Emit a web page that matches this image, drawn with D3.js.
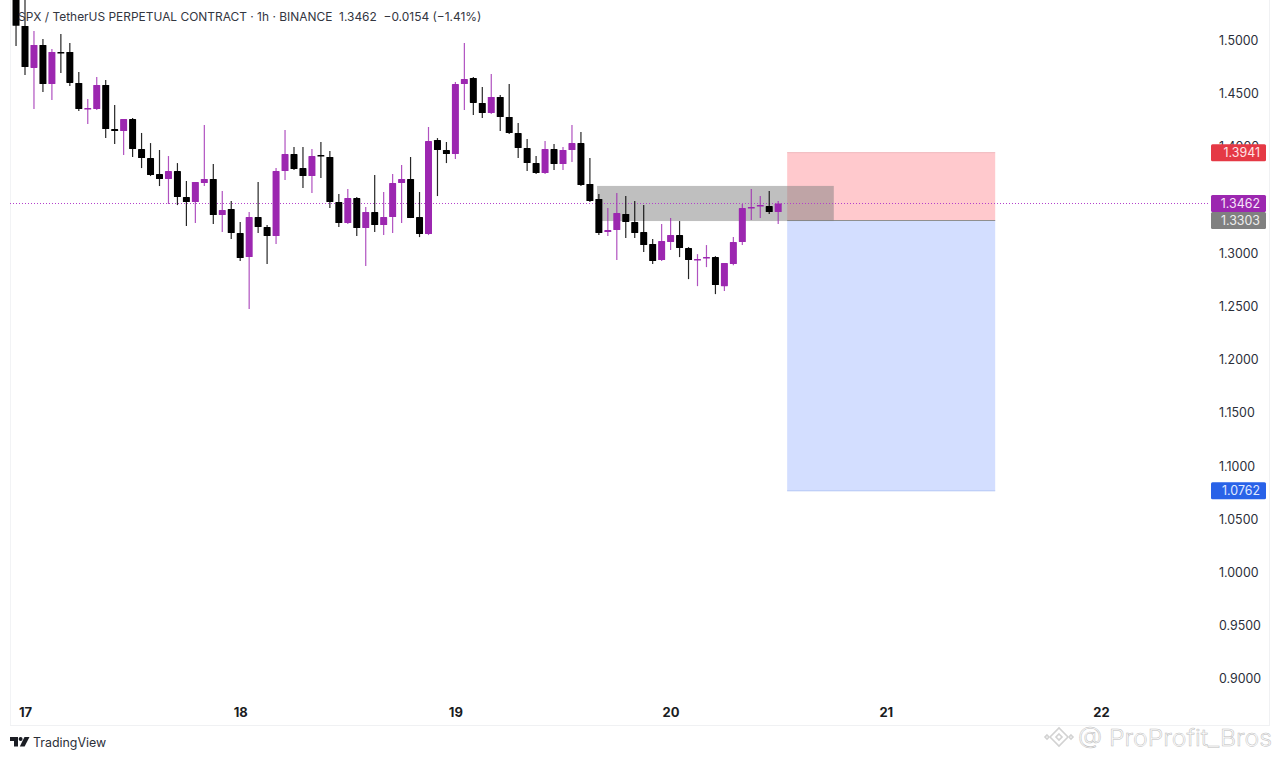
<!DOCTYPE html>
<html><head><meta charset="utf-8">
<script src="https://cdn.jsdelivr.net/npm/d3@7/dist/d3.min.js"></script>
<style>
html,body{margin:0;padding:0;background:#fff;overflow:hidden}
svg{display:block;font-family:Inter,"Liberation Sans",sans-serif}
</style></head><body><svg id="c" width="1280" height="761"></svg>
<script>
// Hour offsets from the "17" day label, one per candle
const hours = d3.range(-1, 85);
const opens = [1.5433,1.5132,1.4737,1.4953,1.4586,1.4887,1.4887,1.4596,1.4346,1.4351,1.4577,1.4163,1.4144,1.4257,1.3975,1.3890,1.3740,1.3693,1.3768,1.3523,1.3476,1.3655,1.3693,1.3354,1.3410,1.3185,1.2959,1.3335,1.3241,1.3157,1.3768,1.3928,1.3796,1.3721,1.3918,1.3900,1.3476,1.3279,1.3514,1.3232,1.3382,1.3260,1.3335,1.3655,1.3693,1.3335,1.3176,1.4060,1.3966,1.3928,1.4586,1.4643,1.4408,1.4313,1.4464,1.4276,1.4125,1.3984,1.3843,1.3749,1.3975,1.3834,1.3966,1.4031,1.3646,1.3505,1.3194,1.3213,1.3364,1.3288,1.3194,1.3082,1.2931,1.3100,1.3166,1.3044,1.2931,1.2950,1.2959,1.2686,1.2893,1.3100,1.3420,1.3439,1.3439,1.3382];
const highs = [1.5451,1.5404,1.5085,1.5009,1.4915,1.5056,1.4972,1.4699,1.4445,1.4652,1.4624,1.4389,1.4257,1.4266,1.4126,1.4031,1.3966,1.3909,1.3843,1.3674,1.3665,1.4201,1.3834,1.3580,1.3486,1.3288,1.3382,1.3665,1.3260,1.3796,1.4154,1.3994,1.3994,1.3975,1.4041,1.3956,1.3552,1.3599,1.3523,1.3429,1.3730,1.3571,1.3740,1.3824,1.3900,1.3571,1.4182,1.4078,1.4041,1.4605,1.4972,1.4652,1.4558,1.4680,1.4483,1.4586,1.4219,1.4069,1.3909,1.4050,1.4022,1.3994,1.4201,1.4135,1.3890,1.3552,1.3420,1.3561,1.3533,1.3486,1.3448,1.3129,1.3270,1.3326,1.3298,1.3053,1.2987,1.3072,1.2968,1.2903,1.3147,1.3458,1.3599,1.3533,1.3580,1.3486];
const lows = [1.4943,1.4671,1.4351,1.4511,1.4436,1.4690,1.4567,1.4332,1.4210,1.4342,1.4078,1.4022,1.3919,1.3900,1.3796,1.3721,1.3627,1.3458,1.3448,1.3251,1.3279,1.3627,1.3270,1.3194,1.3129,1.2922,1.2470,1.3185,1.2893,1.3082,1.3683,1.3778,1.3608,1.3561,1.3702,1.3420,1.3241,1.3270,1.3157,1.2875,1.3194,1.3166,1.3185,1.3279,1.3326,1.3147,1.3166,1.3533,1.3843,1.3881,1.4342,1.4295,1.4266,1.4304,1.4144,1.4116,1.3890,1.3768,1.3740,1.3740,1.3778,1.3778,1.3853,1.3627,1.3476,1.3166,1.3157,1.2931,1.3138,1.3138,1.3006,1.2893,1.2922,1.3025,1.2959,1.2752,1.2686,1.2865,1.2611,1.2640,1.2883,1.3072,1.3307,1.3326,1.3364,1.3270];
const closes = [1.5134,1.4746,1.4953,1.4586,1.4887,1.4878,1.4596,1.4351,1.4360,1.4577,1.4163,1.4144,1.4257,1.3975,1.3890,1.3730,1.3693,1.3768,1.3523,1.3476,1.3665,1.3693,1.3354,1.3401,1.3185,1.2950,1.3335,1.3241,1.3157,1.3768,1.3928,1.3787,1.3721,1.3909,1.3904,1.3476,1.3279,1.3514,1.3232,1.3382,1.3260,1.3335,1.3655,1.3693,1.3326,1.3176,1.4050,1.3966,1.3928,1.4586,1.4633,1.4408,1.4313,1.4464,1.4276,1.4125,1.3984,1.3843,1.3749,1.3975,1.3834,1.3966,1.4031,1.3636,1.3486,1.3185,1.3213,1.3373,1.3288,1.3185,1.3072,1.2922,1.3110,1.3166,1.3044,1.2931,1.2940,1.2959,1.2696,1.2903,1.3100,1.3420,1.3429,1.3448,1.3382,1.3462];

// 1.3500 sits fully under the last-price tag in the reference, so it is not drawn
const priceTicks = [1.5,1.45,1.4,1.3,1.25,1.2,1.15,1.1,1.05,1.0,0.95,0.9];
const dayHours = [0,24,48,72,96,120];
const dayLabels = ["17","18","19","20","21","22"];
const lastPrice = 1.3462, entryPrice = 1.3303, stopPrice = 1.3941, targetPrice = 1.0762;
const zoneTop = 1.3628, zoneBottom = 1.3298, zoneStartHour = 63.8, zoneEndHour = 90.2;
const toolStartHour = 85, toolEndHour = 108.2;
const headerText = "SPX / TetherUS PERPETUAL CONTRACT · 1h · BINANCE  1.3462  −0.0154 (−1.41%)";

const UP = "#9c27b0", DOWN = "#000";
const svg = d3.select("#c");
const y = d3.scaleLinear().domain([1.5, 0.9]).range([40, 678.2]);
const x = d3.scaleLinear().domain([0, 120]).range([25, 1101]);
const bodyW = 7;

// pane borders
svg.append("line").attr("x1",10.5).attr("x2",10.5).attr("y1",0).attr("y2",725).attr("stroke","#f2f3f5");
svg.append("line").attr("x1",1269.5).attr("x2",1269.5).attr("y1",0).attr("y2",725).attr("stroke","#f0f1f3");
svg.append("line").attr("x1",10).attr("x2",1270).attr("y1",725.5).attr("y2",725.5).attr("stroke","#f0f1f3");

// position tool
svg.append("rect").attr("x",x(toolStartHour)).attr("width",x(toolEndHour)-x(toolStartHour))
  .attr("y",y(stopPrice)).attr("height",y(entryPrice)-y(stopPrice)).attr("fill","#ffc9cd");
svg.append("rect").attr("x",x(toolStartHour)).attr("width",x(toolEndHour)-x(toolStartHour))
  .attr("y",y(entryPrice)).attr("height",y(targetPrice)-y(entryPrice)).attr("fill","#d3deff");
svg.append("line").attr("x1",x(toolStartHour)).attr("x2",x(toolEndHour)).attr("y1",y(stopPrice)).attr("y2",y(stopPrice)).attr("stroke","#f0b9bd");
svg.append("line").attr("x1",x(toolStartHour)).attr("x2",x(toolEndHour)).attr("y1",y(targetPrice)).attr("y2",y(targetPrice)).attr("stroke","#b4c6f5");
svg.append("line").attr("x1",x(toolStartHour)).attr("x2",x(toolEndHour)).attr("y1",y(entryPrice)).attr("y2",y(entryPrice)).attr("stroke","#8f8f8f");

// grey supply zone
svg.append("rect").attr("x",x(zoneStartHour)).attr("width",x(zoneEndHour)-x(zoneStartHour))
  .attr("y",y(zoneTop)).attr("height",y(zoneBottom)-y(zoneTop)).attr("fill","#808080").attr("fill-opacity",0.5);

// last price dotted line
svg.append("line").attr("x1",10).attr("x2",1210).attr("y1",y(lastPrice)).attr("y2",y(lastPrice))
  .attr("stroke","#b440cc").attr("stroke-dasharray","1 2").attr("shape-rendering","crispEdges");

// candles
const candles = hours.map((h,i)=>({h,o:opens[i],hi:highs[i],lo:lows[i],c:closes[i]}));
const g = svg.selectAll("g.candle").data(candles).join("g").attr("class","candle");
const col = d => d.c >= d.o ? UP : DOWN;
g.append("line").attr("x1",d=>x(d.h)).attr("x2",d=>x(d.h)).attr("y1",d=>y(d.hi)).attr("y2",d=>y(d.lo))
  .attr("stroke",col).attr("stroke-width",1.2).attr("stroke-opacity",d=>d.c>=d.o?0.8:0.85);
g.append("rect").attr("x",d=>x(d.h)-bodyW/2).attr("width",bodyW)
  .attr("y",d=>y(Math.max(d.o,d.c))).attr("height",d=>Math.max(1.5,Math.abs(y(d.o)-y(d.c))))
  .attr("rx",0.6).attr("fill",col);

// price axis
const yAxis = d3.axisRight(y).tickValues(priceTicks).tickFormat(d3.format(".4f")).tickSize(0).tickPadding(0);
const ya = svg.append("g").attr("transform","translate(1219,0.6)").call(yAxis);
ya.select(".domain").remove();
ya.selectAll("text").attr("font-size",12.4).attr("fill","#2a2e39").attr("font-family","Inter,sans-serif");

// time axis
const xAxis = d3.axisBottom(x).tickValues(dayHours).tickFormat((d,i)=>dayLabels[i]).tickSize(0).tickPadding(0);
const xa = svg.append("g").attr("transform","translate(0,707.5)").call(xAxis);
xa.select(".domain").remove();
xa.selectAll("text").attr("font-size",13).attr("font-weight",700).attr("fill","#1a1c22").attr("font-family","Inter,sans-serif");

// price labels
const tags = [
  {p:stopPrice,f:"#e53945",t:"#ffe3e5"},
  {p:lastPrice,f:"#9c27b0",t:"#f6e6f9"},
  {p:entryPrice,f:"#808080",t:"#eeeeee"},
  {p:targetPrice,f:"#2962e8",t:"#e2eaff"}
];
const tg = svg.selectAll("g.tag").data(tags).join("g").attr("class","tag");
tg.append("rect").attr("x",1211).attr("width",55).attr("height",17).attr("rx",1.5)
  .attr("y",d=>y(d.p)-8.5).attr("fill",d=>d.f);
tg.append("text").attr("x",1260).attr("y",d=>y(d.p)+4.6).attr("text-anchor","end")
  .attr("font-size",12.4).attr("fill",d=>d.t).text(d=>d.p.toFixed(4));

// header
svg.append("text").attr("x",18).attr("y",21.4).attr("font-size",11.95).attr("fill","#33363f")
  .style("white-space","pre").text(headerText);

// TradingView logo
const logo = svg.append("g").attr("transform","translate(10,737)").attr("fill","#1b1d24");
logo.append("path").attr("d","M0 0H8V9.5H4V4H0Z");
logo.append("circle").attr("cx",10.6).attr("cy",2).attr("r",2);
logo.append("path").attr("d","M14.5 0H19.5L14.6 9.5H9.8Z");
svg.append("text").attr("x",33).attr("y",747).attr("font-size",12.4).attr("fill","#2c2f38").text("TradingView");

// watermark
const wm = svg.append("g").attr("fill","#fff").attr("stroke","#d2d2d2").attr("stroke-width",1.6);
const dia = (cx,cy,r)=>`M${cx} ${cy-r}L${cx+r} ${cy}L${cx} ${cy+r}L${cx-r} ${cy}Z`;
wm.append("path").attr("d","M1050 737L1059 728L1068 737");
wm.append("path").attr("d","M1050 737L1059 746L1068 737");
wm.append("path").attr("d",dia(1047,737,2));
wm.append("path").attr("d",dia(1071,737,2));
wm.append("path").attr("d",dia(1059,737,3));
wm.selectAll("path").attr("fill","none");
svg.append("text").attr("x",1078).attr("y",746).attr("font-size",23).attr("font-weight",300)
  .attr("fill","#fff").attr("stroke","#bdbdbd").attr("stroke-width",0.5).attr("font-family","Inter,sans-serif")
  .attr("textLength",194).attr("lengthAdjust","spacingAndGlyphs").text("@ ProProfit_Bros");
</script></body></html>
